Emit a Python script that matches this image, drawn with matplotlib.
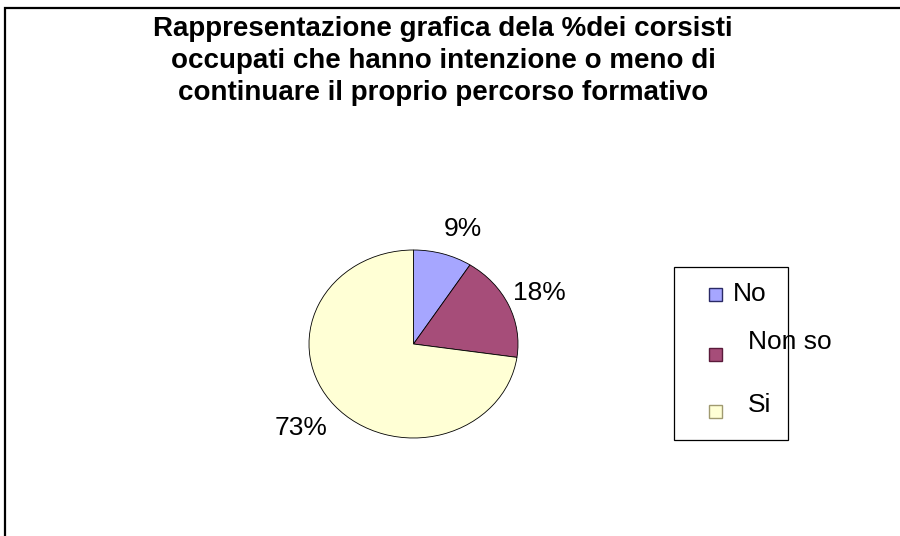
import matplotlib.pyplot as plt
from matplotlib.patches import Rectangle
from matplotlib.transforms import offset_copy

plt.rcParams['font.family'] = ['Liberation Sans', 'DejaVu Sans']

labels = ["No", "Non so", "Si"]
counts = [1, 2, 8]
colors = ["#a6a6ff", "#a64d79", "#ffffd5"]
edges = ["#2a2a66", "#5a1a3a", "#a09a70"]
title = ("Rappresentazione grafica dela %dei corsisti\n"
         "occupati che hanno intenzione o meno di\n"
         "continuare il proprio percorso formativo")

W, H = 900, 536
fig = plt.figure(figsize=(9, 5.36), dpi=100)

def fx(px):
    return px / W

def fy(py):
    return 1 - py / H

# outer chart border (only left and top visible)
fig.patches.append(Rectangle((fx(4.5), -0.1), 1.2, 1.1 - 7.5 / H,
                             transform=fig.transFigure, fill=False,
                             edgecolor="black", linewidth=1.6))

fig.text(fx(443), fy(61), title, ha="center", va="center",
         fontsize=20, fontweight="bold", linespacing=1.31)

# pie area in pixels: x 309..518, y 250..438
ax = fig.add_axes([fx(309), fy(438), 209 / W, 188 / H])
total = sum(counts)
pct = [f"{round(c / total * 100)}%" for c in counts]
wedges, texts = ax.pie(counts, colors=colors, startangle=90, counterclock=False,
                       labels=pct, labeldistance=1.32,
                       wedgeprops=dict(edgecolor="black", linewidth=0.6),
                       textprops=dict(fontsize=19))
# small nudges (pixels) so labels sit where Excel put them
nudges = [(11, -4), (0, -1), (-8, -3)]
for t, (dx, dy) in zip(texts, nudges):
    t.set_ha("center")
    t.set_va("center")
    t.set_transform(offset_copy(t.get_transform(), fig=fig, x=dx, y=dy, units="dots"))
ax.set_aspect("auto")
ax.set_xlim(-1, 1)
ax.set_ylim(-1, 1)
ax.axis("off")

# legend box drawn by hand (text spills over the frame like the original)
fig.patches.append(Rectangle((fx(674), fy(440)), 114 / W, 173 / H,
                             transform=fig.transFigure, facecolor="white",
                             edgecolor="black", linewidth=0.9))
marker_y = [294, 354, 411]
text_pos = [(733, 294), (748, 342), (748, 405)]
for lab, c, ec, my, (tx, ty) in zip(labels, colors, edges, marker_y, text_pos):
    fig.patches.append(Rectangle((fx(709), fy(my + 6.5)), 13 / W, 13 / H,
                                 transform=fig.transFigure, facecolor=c,
                                 edgecolor=ec, linewidth=1.0))
    fig.text(fx(tx), fy(ty), lab, ha="left", va="center", fontsize=19)

fig.savefig("out.png", dpi=100)
